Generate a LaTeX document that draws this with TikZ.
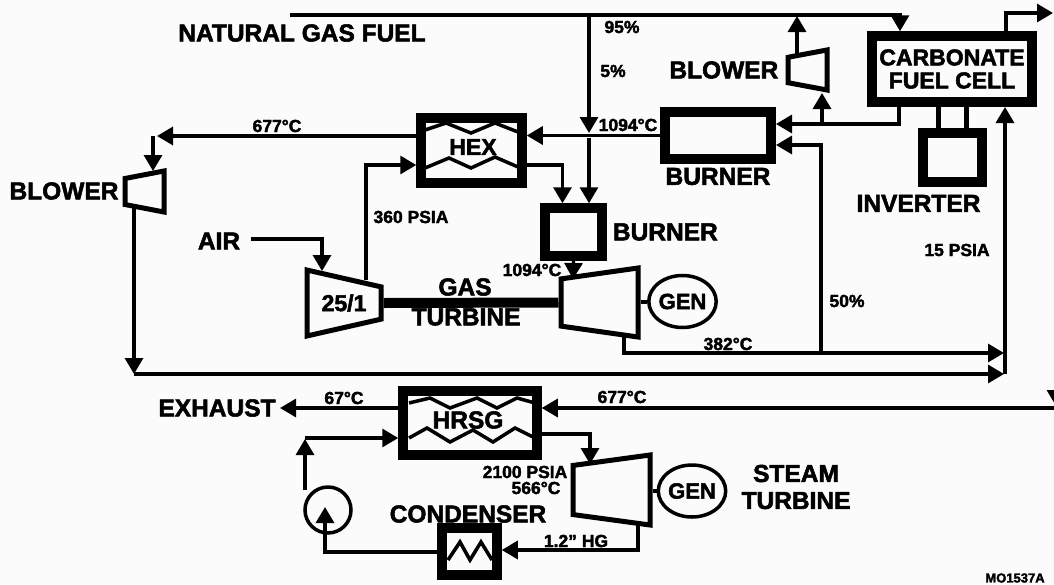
\documentclass[tikz,border=0pt]{standalone}
\usepackage{fontspec}
\setmainfont{Liberation Sans}[BoldFeatures={FakeBold=2.2}]
\usetikzlibrary{%
    positioning,
    arrows.meta,
    shapes.geometric
}
\definecolor{paper}{gray}{0.985}
\tikzset{
    every node/.style = {
        font=\bfseries,
        inner sep=0pt
    },
    label big/.style = {font=\bfseries\fontsize{24.5}{27}\selectfont, align=center},
    label small/.style = {font=\bfseries\fontsize{17.5}{20}\selectfont},
    box/.style = {rectangle, draw, line width=9.5pt},
    machine/.style = {
        trapezium, draw, line width=5pt,
        inner sep=1pt,
        trapezium stretches=true
    },
    gen/.style = {ellipse, draw, line width=3.5pt, font=\bfseries\fontsize{22}{24}\selectfont},
    flow/.style = {line width=3.2pt, -{Triangle[length=16pt,width=18pt]}},
    coil/.style = {line width=3.5pt, line join=miter}
}

\begin{document}
\begin{tikzpicture}[x=1pt, y=-1pt]
    \clip (0,0) rectangle (1054,584);
    \fill[paper] (0,0) rectangle (1054,584);

    % boxes
    \node[
        box,
        minimum width = 160pt,
        minimum height = 66pt,
        label big,
        font=\bfseries\fontsize{23}{23}\selectfont
    ] (fuelcell) at (952, 69) {CARBONATE\\FUEL CELL};
    \node[
        box,
        minimum width = 106pt,
        minimum height = 47pt
    ] (burnerhot) at (718, 135.5) {};
    \node[
        box,
        minimum width = 59pt,
        minimum height = 49pt
    ] (inverter) at (952.5, 157.5) {};
    \node[
        box,
        minimum width = 57pt,
        minimum height = 48pt
    ] (burnerlow) at (573.5, 232) {};
    \node[
        box,
        minimum width = 101pt,
        minimum height = 65pt
    ] (hex) at (471.5, 150.5) {};
    \node[
        box,
        minimum width = 134pt,
        minimum height = 64pt
    ] (hrsg) at (470, 423) {};
    \node[
        box,
        minimum width = 55pt,
        minimum height = 47pt
    ] (condenser) at (469.5, 551.5) {};

    % rotating machines
    \node[
        machine,
        shape border rotate=270,
        trapezium angle=78,
        minimum width = 66pt,
        minimum height = 74pt,
        font=\bfseries\fontsize{23}{25}\selectfont
    ] (compressor) at (344, 303) {25/1};
    \node[
        machine,
        shape border rotate=90,
        trapezium angle=77,
        minimum width = 69pt,
        minimum height = 77pt
    ] (gasturbine) at (599.5, 302.5) {};
    \node[
        machine,
        shape border rotate=90,
        trapezium angle=78,
        minimum width = 70pt,
        minimum height = 77pt
    ] (steamturbine) at (611.5, 490) {};
    \node[
        machine,
        shape border rotate=90,
        trapezium angle=74,
        minimum width = 40pt,
        minimum height = 39pt
    ] (blowertop) at (807.5, 70) {};
    \node[
        machine,
        shape border rotate=90,
        trapezium angle=74,
        minimum width = 41pt,
        minimum height = 39pt
    ] (blowerleft) at (144.5, 191.5) {};

    % generators and pump
    \node[
        gen,
        minimum width = 66pt,
        minimum height = 52pt
    ] (gengas) at (682.5, 301.5) {GEN};
    \node[
        gen,
        minimum width = 60pt,
        minimum height = 52pt
    ] (gensteam) at (692, 491) {GEN};
    \node[
        circle,
        draw,
        line width=3.5pt,
        minimum size = 46pt
    ] (pump) at (328, 510) {};

    % free ends
    \coordinate (fuelstart) at (290, 15);
    \coordinate (airstart) at (251, 239);
    \coordinate (splitfive) at (589, 15);
    \coordinate (splitbelow) at (589, 138);
    \coordinate (exitcell) at (1053, 13);
    \coordinate (mainhot) at (1004, 353);
    \coordinate (mainlow) at (1004, 374);
    \coordinate (lowleft) at (134, 374);
    \coordinate (offscreen) at (1060, 408);
    \coordinate (topoff) at (1056, 380);

    % shaft
    \draw[line width=10pt] (compressor.east) -- (gasturbine.west);
    \draw[line width=4pt] (gasturbine.east |- gengas) -- (gengas);
    \draw[line width=4pt] (steamturbine.east |- gensteam) -- (gensteam);

    % fuel
    \draw[flow] (fuelstart) -| ([xshift=-52pt]fuelcell.north);
    \draw[flow] (splitfive) -- (589, 133);
    \draw[flow] (splitbelow) -- (splitbelow |- burnerlow.north);
    \draw[flow] ([xshift=54pt]fuelcell.north) |- (exitcell);

    % burner and blower
    \draw[flow] (burnerhot.west) -- (hex.east |- burnerhot.west);
    \draw[flow] ([xshift=-53pt]fuelcell.south) |- (776, 124);
    \draw[flow] (822, 124) -- (822, 93);
    \draw[flow] (797, 58) -- (797, 16);
    \draw[flow] (821, 353) |- (776, 145);
    \draw[line width=5pt] (938, 102) -- (938, 133);
    \draw[line width=5pt] (966, 102) -- (966, 133);

    % gas turbine loop
    \draw[flow] (hex.east |- 0, 165) -| ([xshift=-11pt]burnerlow.north);
    \draw[flow] (burnerlow.south) -- (573, 279);
    \draw[flow] (airstart) -| (322, 271);
    \draw[flow] (366, 280) |- (hex.west |- 0, 165);
    \draw[flow] (624, 335) |- (mainhot);
    \draw[flow] (hex.west |- 0, 136) -- (157, 136);
    \draw[flow] (153, 136) -- (153, 171);
    \draw[flow] (134, 206) -- (lowleft);
    \draw[flow] (lowleft) -- (mainlow);
    \draw[flow] (1005, 374) -- (1005, 107);

    % steam loop
    \draw[flow] (offscreen) -- (hrsg.east |- offscreen);
    \draw[flow] (topoff) -- (1056, 406);
    \draw[flow] (hrsg.west |- offscreen) -- (280, 408);
    \draw[flow] (hrsg.east |- 0, 434) -| (590, 464);
    \draw[flow] (638, 522) |- (condenser.east |- 0, 550);
    \draw[flow] (condenser.west |- 0, 552) -| (325, 507);
    \draw[flow] (305, 490) -- (305, 439);
    \draw[flow] (305, 438) -- (hrsg.west |- 0, 438);

    % coils
    \draw[coil] (425,130) -- (446,123) -- (471,133) -- (495,123) -- (518,132);
    \draw[coil] (425,168) -- (449,158) -- (471,168) -- (495,157) -- (518,167);
    \draw[coil] (409,403) -- (430,398) -- (450,408) -- (477,398) -- (497,408) -- (517,398) -- (535,403);
    \draw[coil] (409,438) -- (427,428) -- (450,442) -- (473,430) -- (493,442) -- (515,428) -- (535,438);
    \draw[coil] (448,560) -- (460,542) -- (470,560) -- (481,542) -- (492,560);

    % labels
    \node[label big] (fuellabel) at (302, 33) {NATURAL GAS FUEL};
    \node[label big, below=4pt of burnerhot] (burnerhotlabel) {BURNER};
    \node[label big, right=6pt of burnerlow] (burnerlowlabel) {BURNER};
    \node[label big, below=8pt of inverter, xshift=-34pt] (inverterlabel) {INVERTER};
    \node[label big, left=7pt of blowertop] (blowertoplabel) {BLOWER};
    \node[label big] (blowerleftlabel) at (64, 191) {BLOWER};
    \node[label big] (airlabel) at (219, 241) {AIR};
    \node[label big] (gaslabel) at (465, 287) {GAS};
    \node[label big] (turbinelabel) at (466, 317) {TURBINE};
    \node[label big] (exhaustlabel) at (217, 408) {EXHAUST};
    \node[label big] (steamlabel) at (796, 487) {STEAM\\TURBINE};
    \node[label big] (condenserlabel) at (468, 514) {CONDENSER};
    \node[label big, font=\bfseries\fontsize{23}{25}\selectfont] (hexlabel) at (473, 147) {HEX};
    \node[label big] (hrsglabel) at (468, 420) {HRSG};
    \node[label small] (pctninety) at (622, 27) {95\%};
    \node[label small] (pctfive) at (613, 71) {5\%};
    \node[label small] (pctfifty) at (847, 301) {50\%};
    \node[label small] (temphot) at (628, 125) {1094°C};
    \node[label small] (templow) at (532, 270) {1094°C};
    \node[label small] (tempback) at (277, 126) {677°C};
    \node[label small] (tempturb) at (728, 344) {382°C};
    \node[label small] (temphrsg) at (622, 397) {677°C};
    \node[label small] (tempstack) at (344, 398) {67°C};
    \node[label small] (presscomp) at (411, 217) {360 PSIA};
    \node[label small] (presscell) at (957, 250) {15 PSIA};
    \node[label small] (presssteam) at (525, 472) {2100 PSIA};
    \node[label small] (tempsteam) at (536, 488) {566°C};
    \node[label small] (presscond) at (576, 541) {1.2" HG};
    \node[label small, font=\bfseries\fontsize{13}{15}\selectfont] (drawingno) at (1015, 578) {MO1537A};
\end{tikzpicture}
\end{document}
